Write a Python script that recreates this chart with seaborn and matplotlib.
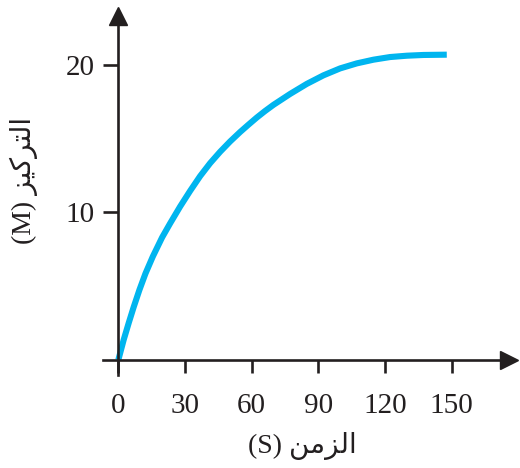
import matplotlib
matplotlib.use('Agg')
import matplotlib.pyplot as plt
import seaborn as sns
import pandas as pd

# data
time_s = [0, 2.4, 4.7, 6.9, 9.5, 12.2, 15.5, 19.7, 23.3, 27.8, 32.3, 36.8, 41.3, 45.8,
          50.3, 54.8, 58.5, 62.3, 66.0, 69.8, 77.3, 84.8, 92.3, 99.8, 107.3, 114.8,
          122.3, 129.8, 137.3, 147.8]
conc_m = [0, 1.36, 2.52, 3.58, 4.75, 5.85, 7.0, 8.3, 9.25, 10.39, 11.45, 12.45, 13.33, 14.1,
          14.8, 15.44, 15.93, 16.42, 16.86, 17.28, 18.02, 18.7, 19.28, 19.75, 20.09, 20.34,
          20.52, 20.61, 20.66, 20.68]
x_ticks = [0, 30, 60, 90, 120, 150]
y_ticks = [10, 20]

# Arabic labels written in shaped presentation forms, visual order
x_label = '(S) \uFEE6\uFEE3\uFEB0\uFEDF\uFE8D'            # الزمن (S)
y_label = '(M) \uFEB0\uFEF4\uFEDB\uFEAE\uFE98\uFEDF\uFE8D'  # التركيز (M)

sns.set_style('white')
plt.rcParams['font.family'] = ['Liberation Serif', 'DejaVu Sans']

df = pd.DataFrame({'t': time_s, 'c': conc_m})

dark = '#231f20'
W, H = 520, 468
fig = plt.figure(figsize=(W / 100, H / 100), dpi=100)
# axes box in pixels: left 103, right 509, top 16, bottom 375
ax = fig.add_axes([103 / W, (H - 375) / H, (509 - 103) / W, (375 - 16) / H])

sns.lineplot(data=df, x='t', y='c', ax=ax, color='#00b5ef', linewidth=4.4,
             solid_capstyle='butt')

ax.set_xlim(-6.9, 175.8)
ax.set_ylim(-1.02, 23.3)

for side in ['top', 'right']:
    ax.spines[side].set_visible(False)
for side in ['left', 'bottom']:
    ax.spines[side].set_position(('data', 0))
    ax.spines[side].set_color(dark)
    ax.spines[side].set_linewidth(1.9)

# arrow heads at the ends of the axes
ax.plot(1, 0, '>', color=dark, markersize=13, transform=ax.get_yaxis_transform(), clip_on=False)
ax.plot(0, 1, '^', color=dark, markersize=13, transform=ax.get_xaxis_transform(), clip_on=False)

ax.set_xticks(x_ticks)
ax.set_yticks(y_ticks)
ax.tick_params(axis='x', bottom=True, direction='out', length=9.5, width=1.9, color=dark,
               labelsize=21, pad=14, labelcolor=dark)
ax.tick_params(axis='y', left=True, direction='out', length=11, width=1.9, color=dark,
               labelsize=21, pad=6, labelcolor=dark)

ax.set_xlabel(x_label, fontsize=20, color=dark)
ax.set_ylabel(y_label, fontsize=20, color=dark)
ax.xaxis.set_label_coords((302 - 103) / (509 - 103), -(446 - 375) / (375 - 16))
ax.yaxis.set_label_coords(-(103 - 24) / (509 - 103), (375 - 180) / (375 - 16))
ax.xaxis.label.set_va('center')
ax.yaxis.label.set_va('center')

fig.savefig('out.png', dpi=100)
